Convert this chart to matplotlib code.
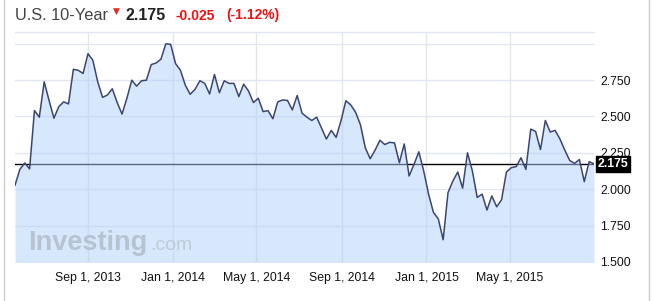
import matplotlib
matplotlib.use("Agg")
import matplotlib.pyplot as plt
import numpy as np
import pandas as pd

plt.rcParams['font.family'] = ['Liberation Sans', 'DejaVu Sans']

# weekly closes, US 10-year yield
start_date = "2013-05-19"
yields = [
    2.027, 2.136, 2.180, 2.140, 2.540, 2.495, 2.738, 2.610, 2.488, 2.567,
    2.600, 2.586, 2.824, 2.817, 2.795, 2.931, 2.886, 2.738, 2.631, 2.647,
    2.690, 2.595, 2.516, 2.625, 2.749, 2.708, 2.745, 2.749, 2.856, 2.867,
    2.893, 2.999, 2.995, 2.863, 2.817, 2.715, 2.652, 2.686, 2.745, 2.727,
    2.654, 2.788, 2.663, 2.745, 2.727, 2.727, 2.636, 2.722, 2.674, 2.595,
    2.625, 2.533, 2.540, 2.484, 2.600, 2.613, 2.610, 2.545, 2.644, 2.522,
    2.495, 2.472, 2.495, 2.420, 2.345, 2.404, 2.356, 2.470, 2.608, 2.579,
    2.529, 2.443, 2.284, 2.209, 2.268, 2.336, 2.307, 2.322, 2.318, 2.182,
    2.311, 2.091, 2.170, 2.257, 2.125, 1.966, 1.841, 1.796, 1.653, 1.977,
    2.057, 2.118, 2.007, 2.250, 2.125, 1.943, 1.966, 1.857, 1.954, 1.879,
    1.927, 2.118, 2.148, 2.155, 2.216, 2.136, 2.413, 2.397, 2.272, 2.472,
    2.393, 2.404, 2.345, 2.268, 2.198, 2.177, 2.204, 2.052, 2.189, 2.175,
]
last_price = 2.175
change = "-0.025"
change_pct = "(-1.12%)"

tick_dates = ["2013-09-01", "2014-01-01", "2014-05-01",
              "2014-09-01", "2015-01-01", "2015-05-01"]
tick_labels = ["Sep 1, 2013", "Jan 1, 2014", "May 1, 2014",
               "Sep 1, 2014", "Jan 1, 2015", "May 1, 2015"]
y_ticks = [1.5, 1.75, 2.0, 2.25, 2.5, 2.75, 3.0]
y_labels = ["1.500", "1.750", "2.000", "2.250", "2.500", "2.750", ""]

W, H = 654, 301
dates = pd.date_range(start_date, periods=len(yields), freq="7D")


def px(x, y):
    return x / W, 1 - y / H


fig = plt.figure(figsize=(W / 100, H / 100), dpi=100)
ax = fig.add_axes([15 / W, 1 - 262 / H, (594 - 15) / W, (262 - 32) / H])

grid_col = "#e2e6ee"
ax.set_xticks(pd.to_datetime(tick_dates))
ax.set_xticklabels(tick_labels)
ax.set_yticks(y_ticks)
ax.set_yticklabels(y_labels)
ax.grid(True, color=grid_col, lw=1, zorder=0)
ax.set_axisbelow(True)

ax.axhline(last_price, color="black", lw=1, zorder=1)
ax.fill_between(dates, yields, 1.0, color=(176 / 255, 208 / 255, 250 / 255),
                alpha=0.5, lw=0, zorder=2)
ax.plot(dates, yields, color="#3b4670", lw=1.1, zorder=3)

ax.set_xlim(dates[0], dates[-1])
ax.set_ylim(1.5, 3.08)

for s in ["left", "right", "bottom"]:
    ax.spines[s].set_visible(False)
ax.spines["top"].set_color(grid_col)
ax.spines["top"].set_linewidth(1)

ax.yaxis.tick_right()
ax.tick_params(axis="y", length=0, pad=4.5, labelsize=8.8, labelcolor="#111111")
ax.tick_params(axis="x", length=0, pad=7, labelsize=8.8, labelcolor="#111111")

ax.annotate(f"{last_price:.3f}", xy=(1.0, last_price),
            xycoords=("axes fraction", "data"), xytext=(2.5, 0),
            textcoords="offset points", ha="left", va="center",
            fontsize=8.8, fontweight="bold", color="white", zorder=10,
            bbox=dict(boxstyle="square,pad=0.15", fc="black", ec="black"))

# header
fig.text(*px(15, 19.5), "U.S. 10-Year", fontsize=11.8, color="#444444",
         ha="left", va="baseline")
fig.text(*px(116, 14), "\u25bc", fontsize=6.5, color="#e8281e", ha="center",
         va="baseline", family="DejaVu Sans")
fig.text(*px(125, 19.5), f"{last_price:.3f}", fontsize=11.5, fontweight="bold",
         color="#222222", ha="left", va="baseline")
fig.text(*px(176, 19.5), change, fontsize=10, fontweight="bold",
         color="#ee1111", ha="left", va="baseline")
fig.text(*px(226, 19.5), change_pct, fontsize=10, fontweight="bold",
         color="#ee1111", ha="left", va="baseline")

# watermark
fig.text(*px(28, 250), "Investing", fontsize=19.5, fontweight="bold",
         color="#b8c3d2", ha="left", va="baseline")
fig.text(*px(150, 250), ".com", fontsize=14, color="#c0cbd9",
         ha="left", va="baseline")

# page borders
fig.add_artist(plt.Line2D([3.5 / W, 3.5 / W], [0, 1], color="#cccccc", lw=1))
fig.add_artist(plt.Line2D([648.5 / W, 648.5 / W], [0, 1], color="#cccccc", lw=1))

fig.savefig("out.png", dpi=100)
